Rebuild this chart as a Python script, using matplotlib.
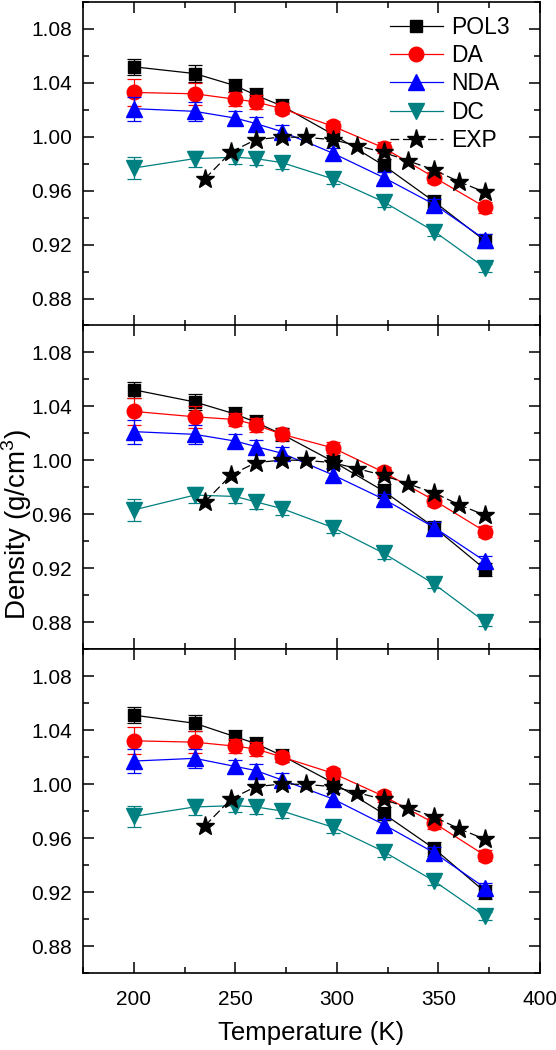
import matplotlib
matplotlib.use("Agg")
import matplotlib.pyplot as plt
from matplotlib.ticker import MultipleLocator

plt.rcParams['font.family'] = ['Liberation Sans', 'DejaVu Sans']
plt.rcParams['mathtext.fontset'] = 'custom'
plt.rcParams['mathtext.rm'] = 'Liberation Sans'

# ---------------- data ----------------
T = [200, 230, 250, 260, 273, 298, 323, 348, 373]
T_exp = [235, 248, 260, 273, 285, 298, 310, 323, 335, 348, 360, 373]
exp_rho = [0.969, 0.989, 0.998, 1.000, 0.9997, 0.998, 0.9936, 0.9886, 0.9824, 0.9755, 0.967, 0.959]

# top panel
pol3_a = [1.052, 1.047, 1.038, 1.031, 1.023, 1.002, 0.979, 0.952, 0.923]
da_a = [1.033, 1.032, 1.028, 1.026, 1.021, 1.008, 0.992, 0.970, 0.948]
nda_a = [1.021, 1.019, 1.014, 1.010, 1.004, 0.988, 0.970, 0.950, 0.924]
dc_a = [0.977, 0.984, 0.985, 0.984, 0.981, 0.969, 0.952, 0.930, 0.903]

# middle panel
pol3_b = [1.052, 1.043, 1.034, 1.028, 1.019, 0.999, 0.977, 0.950, 0.919]
da_b = [1.036, 1.032, 1.030, 1.026, 1.019, 1.009, 0.991, 0.970, 0.947]
nda_b = [1.021, 1.019, 1.014, 1.010, 1.005, 0.989, 0.971, 0.950, 0.925]
dc_b = [0.963, 0.974, 0.973, 0.969, 0.964, 0.950, 0.931, 0.908, 0.880]

# bottom panel
pol3_c = [1.051, 1.045, 1.035, 1.030, 1.021, 1.001, 0.978, 0.952, 0.920]
da_c = [1.032, 1.031, 1.028, 1.026, 1.020, 1.008, 0.991, 0.971, 0.947]
nda_c = [1.017, 1.019, 1.013, 1.010, 1.003, 0.989, 0.970, 0.949, 0.923]
dc_c = [0.976, 0.983, 0.984, 0.983, 0.980, 0.968, 0.950, 0.928, 0.902]

# error bars
pol3_err = [0.006, 0.006, 0.005, 0.005, 0.005, 0.005, 0.005, 0.005, 0.005]
da_err = [0.010, 0.008, 0.005, 0.005, 0.004, 0.004, 0.004, 0.004, 0.004]
nda_err = [0.009, 0.007, 0.005, 0.005, 0.005, 0.004, 0.004, 0.004, 0.004]
dc_err = [0.008, 0.006, 0.005, 0.005, 0.005, 0.004, 0.004, 0.003, 0.003]

series_labels = ["POL3", "DA", "NDA", "DC", "EXP"]
panels = [
    (pol3_a, da_a, nda_a, dc_a),
    (pol3_b, da_b, nda_b, dc_b),
    (pol3_c, da_c, nda_c, dc_c),
]

# ---------------- figure ----------------
fig = plt.figure(figsize=(5.56, 10.5), dpi=100)
left, right = 83 / 556, 540 / 556
tops = [2, 325, 649]
h_px = 324

styles = [
    dict(color='black', marker='s', ms=9),
    dict(color='#ff0000', marker='o', ms=10.5),
    dict(color='#0000ff', marker='^', ms=11),
    dict(color='#008080', marker='v', ms=11),
]
errs = [pol3_err, da_err, nda_err, dc_err]

axes = []
legend_handles = None
for i, data in enumerate(panels):
    top = tops[i]
    ax = fig.add_axes([left, 1 - (top + h_px) / 1050, right - left, h_px / 1050])
    axes.append(ax)
    handles = []
    for j, (vals, st, er) in enumerate(zip(data, styles, errs)):
        cont = ax.errorbar(T, vals, yerr=er, color=st['color'], marker=st['marker'],
                           ms=st['ms'], lw=0.9, elinewidth=0.9, capsize=4.8, capthick=0.9,
                           zorder=2 + j)
        handles.append(cont[0])
    ln, = ax.plot(T_exp, exp_rho, color='black', marker='*', ms=14, lw=0.9,
                  ls=(0, (7, 3)), zorder=7)
    handles.append(ln)
    if legend_handles is None:
        legend_handles = handles

    ax.set_xlim(175, 400)
    ax.set_ylim(0.86, 1.10)
    ax.xaxis.set_major_locator(MultipleLocator(50))
    ax.xaxis.set_minor_locator(MultipleLocator(25))
    ax.yaxis.set_minor_locator(MultipleLocator(0.02))
    ax.set_yticks([0.88, 0.92, 0.96, 1.00, 1.04, 1.08])
    ax.yaxis.set_major_formatter(plt.FuncFormatter(lambda v, p: f"{v:.2f}"))
    ax.tick_params(which='both', direction='in', top=True, right=True,
                   width=1.1, labelsize=15)
    ax.tick_params(which='major', length=8)
    ax.tick_params(which='minor', length=4.5)
    ax.tick_params(axis='y', pad=8)
    for s in ax.spines.values():
        s.set_linewidth(1.2)
    if i < 2:
        ax.tick_params(labelbottom=False)
    else:
        ax.tick_params(axis='x', pad=12)

axes[0].legend(legend_handles, series_labels, loc='upper left',
               bbox_to_anchor=(0.672, 0.957), frameon=False,
               fontsize=16.5, handlelength=2.3, handletextpad=0.35,
               labelspacing=0.23, borderpad=0, borderaxespad=0, numpoints=1)

fig.text((left + right) / 2, 1 - 1033 / 1050, "Temperature (K)", fontsize=18.5,
         ha='center', va='center')
fig.text(0.03, 1 - 524 / 1050, "Density (g/cm$^3$)", rotation=90,
         fontsize=20, ha='center', va='center')

fig.savefig("out.png", dpi=100)
